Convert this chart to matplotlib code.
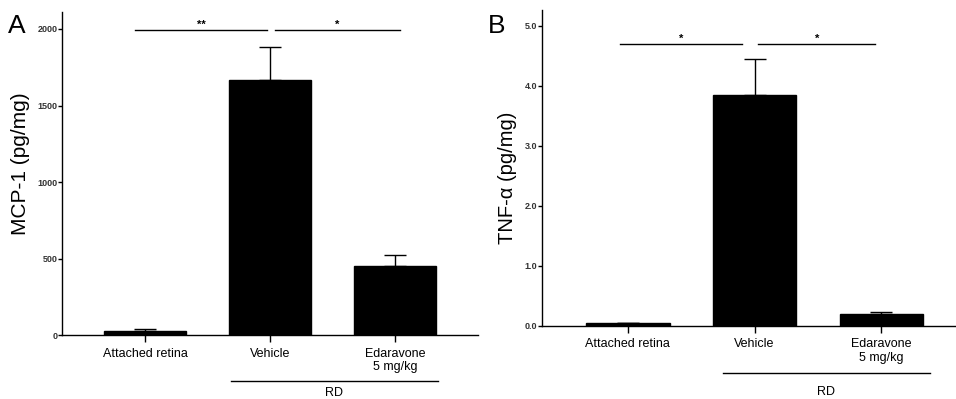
import matplotlib
matplotlib.use("Agg")
import matplotlib.pyplot as plt
import matplotlib.transforms as mtransforms

categories = ["Attached retina", "Vehicle", "Edaravone\n5 mg/kg"]
mcp1_mean = [30, 1668, 451]
mcp1_err = [8, 213, 74]
tnf_mean = [0.05, 3.85, 0.195]
tnf_err = [0.005, 0.59, 0.035]
mcp1_ticks = [0, 500, 1000, 1500, 2000]
tnf_ticks = [0.0, 1.0, 2.0, 3.0, 4.0, 5.0]

plt.rcParams['font.family'] = ['Liberation Sans', 'DejaVu Sans']

fig = plt.figure(figsize=(9.56, 3.99), dpi=100)
ax_a = fig.add_axes([0.065, 0.160, 0.435, 0.810])
ax_b = fig.add_axes([0.567, 0.183, 0.432, 0.792])


def draw_panel(ax, means, errs, ticks, tick_labels, ylabel, ylabel_size,
               ylabel_pos, ylim, xlim, sig, rd, letter, letter_pos):
    x = list(range(len(categories)))
    ax.bar(x, means, width=0.66, color='black', edgecolor='black', zorder=2)
    ax.errorbar(x, means, yerr=[[0] * len(errs), errs], fmt='none',
                ecolor='black', elinewidth=1.0, capsize=8, capthick=1.0,
                zorder=1)
    ax.set_xlim(*xlim)
    ax.set_ylim(*ylim)
    ax.set_xticks(x)
    ax.set_xticklabels(categories, fontsize=9, multialignment='center',
                       linespacing=1.2)
    ax.set_yticks(ticks)
    ax.set_yticklabels(tick_labels, fontsize=6.5, fontweight='bold',
                       color='#333333')
    ax.set_ylabel(ylabel, fontsize=ylabel_size)
    ax.yaxis.set_label_coords(*ylabel_pos)
    for s in ['top', 'right']:
        ax.spines[s].set_visible(False)
    for s in ['left', 'bottom']:
        ax.spines[s].set_linewidth(1.0)
    ax.tick_params(axis='y', direction='out', length=3, width=1, pad=0.5)
    ax.tick_params(axis='x', direction='out', length=5, width=1, pad=4)

    # significance brackets
    for x0, x1, yv, label in sig:
        ax.plot([x0, x1], [yv, yv], color='black', lw=1.0, clip_on=False)
        ax.text((x0 + x1) / 2, yv, label, ha='center', va='bottom',
                fontsize=8, fontweight='bold')

    # RD group line under the axis
    trans = mtransforms.blended_transform_factory(ax.transData, ax.transAxes)
    rx0, rx1, ry, ty = rd
    ax.plot([rx0, rx1], [ry, ry], color='black', lw=1.0, clip_on=False,
            transform=trans)
    ax.text((rx0 + rx1) / 2, ty, "RD", ha='center', va='center',
            fontsize=9, transform=trans)

    ax.text(letter_pos[0], letter_pos[1], letter, transform=ax.transAxes,
            fontsize=19, ha='center', va='center')


draw_panel(ax_a, mcp1_mean, mcp1_err, mcp1_ticks,
           [str(t) for t in mcp1_ticks], "MCP-1 (pg/mg)", 15,
           (-0.078, 0.53), (0, 2111), (-0.664, 2.664),
           [(-0.08, 0.976, 1995, "**"), (1.04, 2.04, 1995, "*")],
           (0.69, 2.34, -0.142, -0.178), "A", (-0.11, 0.957))

draw_panel(ax_b, tnf_mean, tnf_err, tnf_ticks,
           ["%.1f" % t for t in tnf_ticks], "TNF-α (pg/mg)", 14.5,
           (-0.061, 0.47), (0, 5.26), (-0.675, 2.58),
           [(-0.06, 0.90, 4.70, "*"), (1.03, 1.95, 4.70, "*")],
           (0.75, 2.38, -0.148, -0.209), "B", (-0.109, 0.949))

fig.savefig("out.png", dpi=100)
